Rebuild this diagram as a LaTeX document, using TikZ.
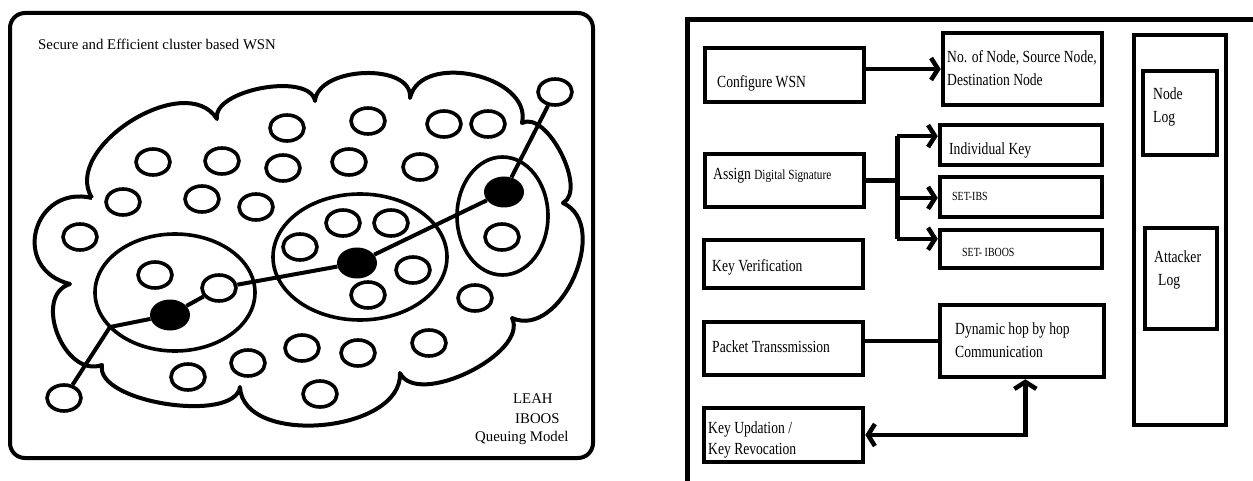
\documentclass[tikz,border=0pt]{standalone}
\usepackage{fontspec}
\setmainfont{Liberation Serif}
\newfontfamily\narrowserif[FakeStretch=0.8]{Liberation Serif}
\usetikzlibrary{arrows.meta,shapes.geometric,fit,calc}

\begin{document}
\begin{tikzpicture}[x=1pt,y=-1pt,
  panel/.style={line width=4pt, rounded corners=15pt},
  cloudline/.style={line width=4pt, line join=round},
  sensor/.style={draw, ellipse, line width=3.6pt, minimum width=34pt, minimum height=26pt, inner sep=0pt},
  head/.style={ellipse, fill=black, minimum width=40pt, minimum height=31pt, inner sep=0pt},
  cluster/.style={draw, ellipse, line width=3.6pt, inner sep=0pt},
  link/.style={line width=4pt},
  box/.style={draw, rectangle, line width=4.5pt, inner sep=0pt},
  flow/.style={line width=4.5pt},
  tipped/.style={-{Straight Barb[length=7pt,width=22pt]}},
  bothtips/.style={{Straight Barb[length=7pt,width=22pt]}-{Straight Barb[length=7pt,width=22pt]}},
  caption/.style={anchor=base west, inner sep=0pt, font=\fontsize{14.8}{17}\selectfont},
  lbl/.style={anchor=base west, inner sep=0pt, font=\narrowserif\fontsize{17}{20}\selectfont},
  small/.style={anchor=base west, inner sep=0pt, font=\narrowserif\fontsize{12.4}{15}\selectfont},
]
\useasboundingbox (0,0) rectangle (1253,481);

% ---------------- cluster based WSN ----------------
\draw[panel] (10,13) rectangle (593,458);
\node[caption] (title) at (38,50) {Secure and Efficient cluster based WSN};

% cloud outline made of bulging segments
\draw[cloudline]
  (92,198)
  .. controls (60.7,148) and (185.7,69) .. (217,119)
  .. controls (211.7,89.7) and (309.7,71.7) .. (315,101)
  .. controls (318.3,65.7) and (413.3,62.7) .. (410,98)
  .. controls (420.7,50.7) and (532.7,75.7) .. (522,123)
  .. controls (546.7,109.7) and (587.7,189.7) .. (563,203)
  .. controls (611.7,225) and (560.7,340) .. (512,318)
  .. controls (529.3,353.3) and (417.3,408.3) .. (400,373)
  .. controls (402.7,433) and (242.7,447) .. (240,387)
  .. controls (234.7,423.7) and (94.7,402.7) .. (102,365)
  .. controls (64,378.7) and (32,295.7) .. (70,284)
  .. controls (9.3,269) and (33.3,184) .. (92,198);

% cluster boundaries
\node[cluster, minimum width=160pt, minimum height=117pt] (clA) at (175,292.5) {};
\node[cluster, minimum width=174pt, minimum height=126pt] (clB) at (360,257) {};
\node[cluster, minimum width=91pt, minimum height=118pt] (clC) at (502.5,216) {};

% ordinary sensor nodes
\foreach \px/\py [count=\i] in {
  287/128, 153/162, 222/161, 283/168, 123/202, 202/199, 256/207, 80/237,
  368/121, 444/124, 488/124, 349/162, 420/167, 343/223, 391/223, 502/237,
  155/275, 300/247, 413/270, 368/295, 475/298, 429/343, 358/353, 302/348,
  248/363, 188/377, 320/394}
  \node[sensor] (s\i) at (\px,\py) {};
\node[sensor] (relay) at (219,288) {};
\node[sensor] (sinkA) at (64,398) {};
\node[sensor] (sinkB) at (555,92) {};

% cluster heads
\node[head] (hA) at (170,315) {};
\node[head] (hB) at (357,263) {};
\node[head] (hC) at (504,192) {};

% routing path
\coordinate (bendA) at (110,327);
\draw[link] (sinkA) -- (bendA) -- (hA);
\draw[link] (hA) -- (relay);
\draw[link] (relay) -- (hB);
\draw[link] (hB) -- (hC);
\draw[link] (hC) -- (sinkB);

\node[caption] (t1) at (513,403) {LEAH};
\node[caption] (t2) at (515,423) {IBOOS};
\node[caption] (t3) at (475,441) {Queuing Model};

% ---------------- module flow ----------------
\draw[line width=5pt] (1256,20) -- (687,20) -- (687,484);

\node[box, fit={(705,48) (864,102)}] (cfg) {};
\node[lbl] (cfgT) at (717,88) {Configure WSN};

\node[box, fit={(943,33) (1102,105)}] (nsd) {};
\node[lbl] (nsdT1) at (947,63) {No. of Node, Source Node,};
\node[lbl] (nsdT2) at (947,86) {Destination Node};

\node[box, fit={(705,154) (864,207)}] (sig) {};
\node[lbl] (sigT) at (713,180) {Assign {\fontsize{14}{16}\selectfont Digital Signature}};

\node[box, fit={(940,125) (1102,165)}] (ind) {};
\node[lbl] (indT) at (949,155) {Individual Key};

\node[box, fit={(940,177) (1102,217)}] (ibs) {};
\node[small] (ibsT) at (952,201) {SET-IBS};

\node[box, fit={(940,230) (1102,268)}] (ioos) {};
\node[small] (ioosT) at (962,257) {SET- IBOOS};

\node[box, fit={(704,240) (863,288)}] (ver) {};
\node[lbl] (verT) at (712,272) {Key Verification};

\node[box, fit={(704,322) (863,375)}] (pkt) {};
\node[lbl] (pktT) at (712,352) {Packet Transsmission};

\node[box, fit={(940,305) (1104,377)}] (dyn) {};
\node[lbl] (dynT1) at (955,334) {Dynamic hop by hop};
\node[lbl] (dynT2) at (955,357) {Communication};

\node[box, fit={(704,408) (863,462)}] (kup) {};
\node[lbl] (kupT1) at (708,433) {Key Updation /};
\node[lbl] (kupT2) at (708,454) {Key Revocation};

\node[box, fit={(1134,35) (1226,425)}] (logs) {};
\node[box, fit={(1143,71) (1217,155)}] (nlog) {};
\node[lbl] (nlogT1) at (1153,100) {Node};
\node[lbl] (nlogT2) at (1153,123) {Log};
\node[box, fit={(1145,228) (1217,329)}] (alog) {};
\node[lbl] (alogT1) at (1154,262) {Attacker};
\node[lbl] (alogT2) at (1158,285) {Log};

% connectors
\draw[flow, tipped] (cfg.east |- nsd.west) -- (nsd.west);

\draw[flow] (sig.east) -- ++(31,0) coordinate (split);
\coordinate (pInd) at ($(ind.north west)!0.3!(ind.south west)$);
\coordinate (pIbs) at ($(ibs.north west)!0.52!(ibs.south west)$);
\coordinate (pIoos) at ($(ioos.north west)!0.26!(ioos.south west)$);
\draw[flow] (split |- pInd) -- (split |- pIoos);
\draw[flow, tipped] (split |- pInd) -- (pInd);
\draw[flow, tipped] (split |- pIbs) -- (pIbs);
\draw[flow, tipped] (split |- pIoos) -- (pIoos);

\draw[flow] (pkt.east |- dyn.west) -- (dyn.west);

\coordinate (dynFoot) at ($(dyn.south west)!0.52!(dyn.south east)$);
\draw[flow, bothtips] (kup.east) -| (dynFoot);
\end{tikzpicture}
\end{document}
